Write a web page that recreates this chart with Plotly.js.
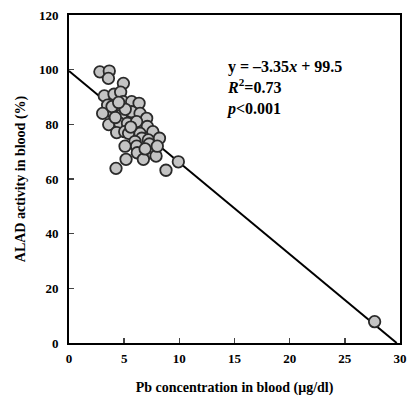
<!DOCTYPE html>
<html><head><meta charset="utf-8">
<script src="https://cdn.plot.ly/plotly-3.0.1.min.js"></script>
<style>html,body{margin:0;padding:0;background:#fff}#chart{width:410px;height:397px}</style>
</head><body><div id="chart"></div>
<script>
var pbConc = [2.8,3.65,3.57,4.93,3.2,4.08,4.68,4.9,5.68,6.35,3.84,3.5,4.75,5.68,6.44,7.04,3.6,4.6,5.3,6.13,7.1,4.32,5.05,5.4,6.44,7.6,6.6,5.98,7.19,8.2,5.08,6.13,7.28,6.19,7.19,7.89,5.17,6.74,4.26,9.91,8.79,27.7,3.05,3.9,4.2,5.1,4.5,6.9,5.6,8.0];
var aladAct = [99.2,99.5,96.8,95,90.4,91,91.8,88.3,88.3,87.7,84.6,87,83.4,84.6,84,82.2,79.9,80.4,80.4,81,79.2,77,77.3,76.7,76.7,77.3,74.9,73.7,74.3,74.9,72,72,72.8,69.6,69.6,68.4,67.2,67.2,63.9,66.3,63.2,7.8,84,86.5,82.5,85.5,88,71,79,72];
var slope = -3.35, intercept = 99.5;
var fitX = [0, -intercept/slope];
var fitY = fitX.map(function(x){return slope*x+intercept;});
var xTicks = [0,5,10,15,20,25,30];
var yTicks = [0,20,40,60,80,100,120];

var serif = 'Liberation Serif, Times New Roman, serif';
var data = [
  {x: fitX, y: fitY, mode:'lines', line:{color:'#000', width:2}, hoverinfo:'skip'},
  {x: pbConc, y: aladAct, mode:'markers',
   marker:{size:11.5, color:'#c4c4c4', line:{color:'#2a2a2a', width:1.8}}}
];
var layout = {
  width:410, height:397, showlegend:false,
  margin:{l:69, r:10, t:15, b:54},
  paper_bgcolor:'#fff', plot_bgcolor:'#fff',
  font:{family:serif, color:'#000'},
  xaxis:{range:[0,30], tickvals:xTicks, ticks:'inside', ticklen:5, tickwidth:1.5,
    showline:true, mirror:true, linecolor:'#000', linewidth:2, showgrid:false, zeroline:false,
    ticklabelstandoff:2,
    tickfont:{family:serif, size:13, color:'#000', weight:'bold'},
    title:{text:'<b>Pb concentration in blood (μg/dl)</b>', font:{family:serif, size:14, color:'#000'}, standoff:18}},
  yaxis:{range:[0,120], tickvals:yTicks, ticks:'inside', ticklen:5, tickwidth:1.5,
    showline:true, mirror:true, linecolor:'#000', linewidth:2, showgrid:false, zeroline:false,
    ticklabelstandoff:6,
    tickfont:{family:serif, size:13, color:'#000', weight:'bold'},
    title:{text:'<b>ALAD activity in blood (%)</b>', font:{family:serif, size:14, color:'#000'}, standoff:10}},
  annotations:[{x:14.05, y:100.6, xref:'x', yref:'y', xanchor:'left', yanchor:'middle', showarrow:false,
    align:'left',
    text:'<b>y = –3.35<i>x</i> + 99.5</b><br><b><i>R</i><sup>2</sup>=0.73</b><br><b><i>p</i><0.001</b>',
    font:{family:serif, size:16, color:'#000'}, yshift:-20}]
};
Plotly.newPlot('chart', data, layout, {displayModeBar:false, staticPlot:true});
</script></body></html>
